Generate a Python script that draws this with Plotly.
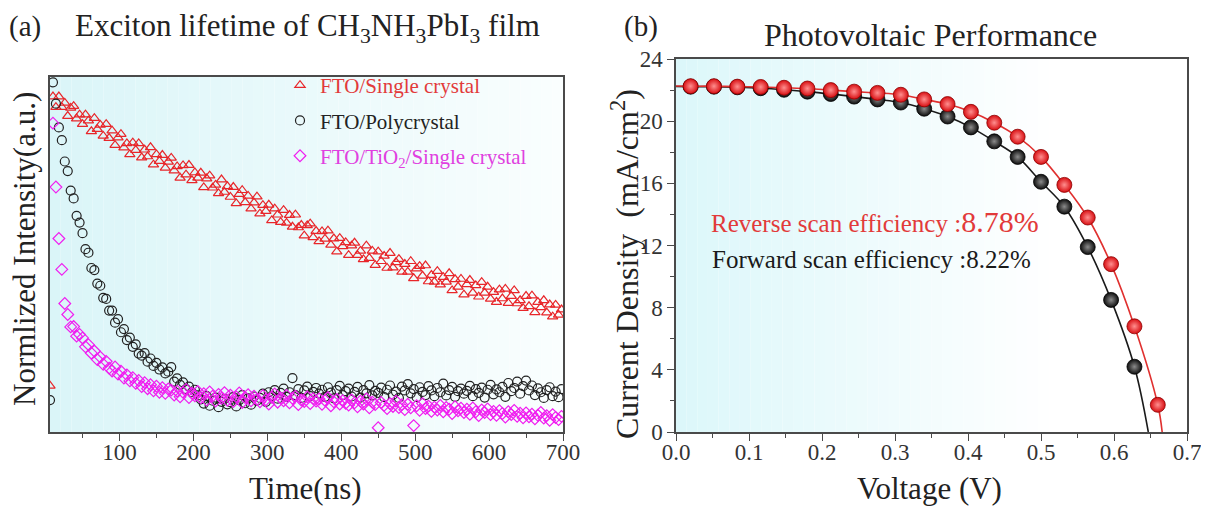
import plotly.graph_objects as go

# ---------------- panel (a): PL decay data (normalized) ----------------
time_ns = [6] + list(range(10, 701, 4))

fto_single_crystal = [0.13,
    0.945, 0.915, 0.945, 0.915, 0.927, 0.890, 0.913, 0.918, 0.883, 0.894,
    0.867, 0.894, 0.877, 0.847, 0.884, 0.853, 0.865, 0.834, 0.867, 0.828,
    0.849, 0.808, 0.829, 0.839, 0.801, 0.813, 0.782, 0.815, 0.794, 0.813,
    0.773, 0.795, 0.776, 0.802, 0.753, 0.782, 0.763, 0.780, 0.744, 0.761,
    0.772, 0.736, 0.748, 0.716, 0.751, 0.725, 0.752, 0.709, 0.731, 0.716,
    0.730, 0.689, 0.714, 0.722, 0.688, 0.696, 0.672, 0.711, 0.676, 0.692,
    0.662, 0.690, 0.644, 0.670, 0.681, 0.647, 0.665, 0.629, 0.646, 0.663,
    0.615, 0.639, 0.622, 0.640, 0.596, 0.629, 0.612, 0.591, 0.625, 0.589,
    0.611, 0.578, 0.612, 0.576, 0.583, 0.553, 0.582, 0.587, 0.548, 0.566,
    0.537, 0.565, 0.544, 0.567, 0.527, 0.545, 0.508, 0.546, 0.523, 0.534,
    0.498, 0.525, 0.533, 0.498, 0.510, 0.486, 0.525, 0.490, 0.510, 0.470,
    0.508, 0.481, 0.496, 0.462, 0.504, 0.463, 0.478, 0.487, 0.451, 0.473,
    0.451, 0.481, 0.433, 0.460, 0.467, 0.440, 0.469, 0.424, 0.442, 0.423,
    0.453, 0.415, 0.436, 0.423, 0.447, 0.399, 0.430, 0.409, 0.431, 0.387,
    0.416, 0.428, 0.392, 0.413, 0.381, 0.422, 0.392, 0.409, 0.375, 0.394,
    0.366, 0.401, 0.376, 0.403, 0.363, 0.383, 0.399, 0.362, 0.371, 0.349,
    0.383, 0.354, 0.384, 0.337, 0.366, 0.351, 0.371, 0.336, 0.359, 0.325,
    0.358, 0.330, 0.345]

fto_polycrystal = [0.09,
    0.985, 0.925, 0.858, 0.822, 0.762, 0.735, 0.680, 0.658, 0.609, 0.590,
    0.560, 0.515, 0.505, 0.462, 0.456, 0.418, 0.412, 0.378, 0.375, 0.342,
    0.342, 0.308, 0.318, 0.281, 0.290, 0.259, 0.266, 0.240, 0.247, 0.221,
    0.215, 0.222, 0.198, 0.207, 0.186, 0.195, 0.176, 0.182, 0.165, 0.170,
    0.183, 0.142, 0.151, 0.133, 0.140, 0.121, 0.128, 0.112, 0.119, 0.103,
    0.092, 0.080, 0.101, 0.074, 0.088, 0.097, 0.070, 0.085, 0.093, 0.078,
    0.084, 0.098, 0.072, 0.090, 0.104, 0.081, 0.095, 0.077, 0.100, 0.088,
    0.096, 0.108, 0.085, 0.112, 0.101, 0.118, 0.094, 0.110, 0.122, 0.099,
    0.112, 0.152, 0.104, 0.121, 0.096, 0.117, 0.128, 0.101, 0.113, 0.124,
    0.108, 0.119, 0.099, 0.126, 0.111, 0.095, 0.118, 0.130, 0.104, 0.115,
    0.122, 0.100, 0.113, 0.127, 0.097, 0.118, 0.109, 0.132, 0.103, 0.116,
    0.110, 0.125, 0.098, 0.119, 0.131, 0.105, 0.114, 0.096, 0.128, 0.117,
    0.135, 0.109, 0.121, 0.098, 0.126, 0.113, 0.104, 0.129, 0.117, 0.101,
    0.124, 0.112, 0.136, 0.103, 0.118, 0.127, 0.099, 0.115, 0.122, 0.108,
    0.116, 0.130, 0.101, 0.121, 0.110, 0.125, 0.097, 0.119, 0.133, 0.106,
    0.120, 0.112, 0.127, 0.099, 0.138, 0.115, 0.124, 0.142, 0.108, 0.129,
    0.145, 0.117, 0.131, 0.104, 0.123, 0.112, 0.096, 0.118, 0.126, 0.101,
    0.114, 0.098, 0.121]

fto_tio2_single_crystal = [None,
    0.870, 0.690, 0.545, 0.458, 0.362, 0.331, 0.296, 0.297, 0.270, 0.275,
    0.265, 0.240, 0.246, 0.222, 0.228, 0.204, 0.211, 0.191, 0.199, 0.180,
    0.172, 0.183, 0.163, 0.171, 0.152, 0.161, 0.144, 0.153, 0.137, 0.145,
    0.128, 0.139, 0.122, 0.133, 0.116, 0.129, 0.112, 0.125, 0.109, 0.121,
    0.118, 0.104, 0.115, 0.099, 0.112, 0.120, 0.097, 0.109, 0.102, 0.114,
    0.096, 0.108, 0.090, 0.113, 0.101, 0.087, 0.106, 0.095, 0.111, 0.089,
    0.104, 0.086, 0.099, 0.110, 0.083, 0.097, 0.105, 0.088, 0.101, 0.092,
    0.085, 0.102, 0.091, 0.079, 0.098, 0.107, 0.084, 0.096, 0.088, 0.103,
    0.082, 0.095, 0.101, 0.077, 0.090, 0.086, 0.099, 0.080, 0.094, 0.087,
    0.093, 0.078, 0.089, 0.097, 0.074, 0.085, 0.092, 0.079, 0.088, 0.081,
    0.076, 0.090, 0.082, 0.071, 0.087, 0.079, 0.093, 0.068, 0.084, 0.077,
    0.012, 0.083, 0.075, 0.066, 0.080, 0.072, 0.087, 0.069, 0.077, 0.063,
    0.078, 0.068, 0.018, 0.074, 0.061, 0.080, 0.066, 0.073, 0.058, 0.070,
    0.062, 0.075, 0.057, 0.069, 0.064, 0.052, 0.071, 0.060, 0.067, 0.055,
    0.064, 0.050, 0.068, 0.057, 0.046, 0.062, 0.055, 0.065, 0.049, 0.058,
    0.047, 0.060, 0.052, 0.042, 0.057, 0.049, 0.061, 0.044, 0.053, 0.040,
    0.054, 0.043, 0.050, 0.037, 0.047, 0.055, 0.039, 0.046, 0.033, 0.049,
    0.041, 0.035, 0.044]

time_ticks = [100, 200, 300, 400, 500, 600, 700]

# ---------------- panel (b): J-V data ----------------
voltage = [0.020, 0.052, 0.084, 0.116, 0.148, 0.180, 0.212, 0.244, 0.276, 0.308,
           0.340, 0.372, 0.404, 0.436, 0.468, 0.500, 0.532, 0.564, 0.596, 0.628, 0.660]
j_reverse = [22.25, 22.25, 22.22, 22.20, 22.15, 22.10, 22.00, 21.90, 21.82, 21.70,
             21.40, 21.10, 20.60, 19.90, 19.00, 17.70, 15.90, 13.80, 10.80, 6.80, 1.75]
j_forward = [22.22, 22.22, 22.18, 22.12, 22.02, 21.90, 21.75, 21.58, 21.40, 21.20,
             20.80, 20.30, 19.60, 18.70, 17.70, 16.10, 14.50, 11.90, 8.50, 4.20, None]
jsc_reverse, voc_reverse = 22.26, 0.666
jsc_forward, voc_forward = 22.23, 0.647
eff_reverse = "8.78%"
eff_forward = "8.22%"

fit_v_reverse = [0.0] + voltage + [voc_reverse]
fit_j_reverse = [jsc_reverse] + j_reverse + [0.0]
fit_v_forward = [0.0] + voltage[:20] + [voc_forward]
fit_j_forward = [jsc_forward] + j_forward[:20] + [0.0]

# ---------------- figure ----------------
# page body has an 8px margin, so the figure is 8px smaller and all
# reference pixel positions are shifted by 8px
OFF = 8
W, H = 1209 - OFF, 506 - OFF
FONT = "Liberation Serif, Times New Roman, serif"
RED = "#e8262a"
MAG = "#f01ef0"
BLK = "#222222"

fig = go.Figure()

fig.add_trace(go.Scatter(
    x=time_ns, y=fto_single_crystal, mode="markers", xaxis="x", yaxis="y",
    name='<span style="color:#e23a3a">FTO/Single crystal</span>', legendgroup="a",
    marker=dict(symbol="triangle-up-open", size=9, color=RED, line=dict(width=1.2))))
fig.add_trace(go.Scatter(
    x=time_ns, y=fto_polycrystal, mode="markers", xaxis="x", yaxis="y",
    name='<span style="color:#222">FTO/Polycrystal</span>', legendgroup="b",
    marker=dict(symbol="circle-open", size=9, color=BLK, line=dict(width=1.2))))
fig.add_trace(go.Scatter(
    x=time_ns, y=fto_tio2_single_crystal, mode="markers", xaxis="x", yaxis="y",
    name='<span style="color:#e040e0">FTO/TiO<sub>2</sub>/Single crystal</span>', legendgroup="c",
    marker=dict(symbol="diamond-open", size=9, color=MAG, line=dict(width=1.2))))

# panel (b)
fig.add_trace(go.Scatter(
    x=fit_v_forward, y=fit_j_forward, mode="lines", xaxis="x2", yaxis="y2",
    line=dict(color="#1a1a1a", width=1.6, shape="spline"), showlegend=False))
fig.add_trace(go.Scatter(
    x=voltage, y=j_forward, mode="markers", xaxis="x2", yaxis="y2", showlegend=False,
    marker=dict(size=15, color="#0d0d0d", gradient=dict(type="radial", color="#8c8c8c"),
                line=dict(color="#000", width=0.8))))
fig.add_trace(go.Scatter(
    x=fit_v_reverse, y=fit_j_reverse, mode="lines", xaxis="x2", yaxis="y2",
    line=dict(color="#e0302f", width=1.6, shape="spline"), showlegend=False))
fig.add_trace(go.Scatter(
    x=voltage, y=j_reverse, mode="markers", xaxis="x2", yaxis="y2", showlegend=False,
    marker=dict(size=15, color="#d80e12", gradient=dict(type="radial", color="#ff8f8f"),
                line=dict(color="#8c0000", width=0.8))))

def px_x(p):
    return (p - OFF) / W

def px_y(p):
    return 1 - (p - OFF) / H

axis_common = dict(showline=True, linecolor="#4a4a4a", linewidth=1.5, mirror=True,
                   showgrid=False, zeroline=False, automargin=False,
                   tickfont=dict(family=FONT, size=23, color="#333"))

fig.update_layout(
    width=W, height=H, margin=dict(l=0, r=0, t=0, b=0, autoexpand=False),
    paper_bgcolor="white", plot_bgcolor="white",
    font=dict(family=FONT, color="#222"),
    xaxis=dict(domain=[px_x(50), px_x(563)], anchor="y", range=[6, 700],
               tickvals=time_ticks, ticks="outside", ticklen=7, tickcolor="#4a4a4a",
               ticklabelstandoff=-8,
               minor=dict(ticks="outside", ticklen=4, dtick=50, tick0=0, tickcolor="#4a4a4a"),
               **axis_common),
    yaxis=dict(domain=[px_y(432), px_y(77)], anchor="x", range=[0, 1],
               showticklabels=False, ticks="", **axis_common),
    xaxis2=dict(domain=[px_x(676), px_x(1187)], anchor="y2", range=[0, 0.7],
                dtick=0.1, tick0=0, tickformat=".1f", ticks="outside", ticklen=7,
                tickcolor="#4a4a4a", ticklabelstandoff=-8,
                minor=dict(ticks="outside", ticklen=4, dtick=0.05, tick0=0, tickcolor="#4a4a4a"),
                **axis_common),
    yaxis2=dict(domain=[px_y(432), px_y(59)], anchor="x2", range=[0, 24],
                dtick=4, tick0=0, ticks="outside", ticklen=7, tickcolor="#4a4a4a",
                minor=dict(ticks="outside", ticklen=4, dtick=2, tick0=0, tickcolor="#4a4a4a"),
                **axis_common),
    legend=dict(x=px_x(280), y=px_y(65), xanchor="left", yanchor="top",
                bgcolor="rgba(0,0,0,0)", borderwidth=0,
                font=dict(family=FONT, size=21, color="#222"),
                tracegroupgap=5, traceorder="grouped", itemwidth=30),
    showlegend=True,
)

# background gradients (cyan -> white)
shapes = []
N = 48
for i in range(N):
    f = (i + 0.5) / N
    c0 = (218, 245, 248)
    c1 = (250, 254, 254)
    col = tuple(int(round(c0[k] + (c1[k] - c0[k]) * f)) for k in range(3))
    shapes.append(dict(type="rect", xref="x domain", yref="y domain", x0=i / N, x1=(i + 1) / N,
                       y0=0, y1=1, fillcolor="rgb(%d,%d,%d)" % col, line=dict(width=0), layer="below"))
for i in range(N):
    f = min(1.0, ((i + 0.5) / N) / 0.75)
    c0 = (220, 247, 250)
    c1 = (255, 255, 255)
    col = tuple(int(round(c0[k] + (c1[k] - c0[k]) * f)) for k in range(3))
    shapes.append(dict(type="rect", xref="x2 domain", yref="y2 domain", x0=i / N, x1=(i + 1) / N,
                       y0=0, y1=1, fillcolor="rgb(%d,%d,%d)" % col, line=dict(width=0), layer="below"))
fig.update_layout(shapes=shapes)

def ann(text, x, y, size, color="#222", angle=0, xanchor="center", yanchor="middle"):
    return dict(text=text, x=px_x(x), y=px_y(y), xref="paper", yref="paper",
                showarrow=False, textangle=angle, xanchor=xanchor, yanchor=yanchor,
                font=dict(family=FONT, size=size, color=color))

annotations = [
    ann("(a)", 25, 8, 29, yanchor="top"),
    ann("Exciton lifetime of CH<sub>3</sub>NH<sub>3</sub>PbI<sub>3</sub> film", 307, 28, 31),
    ann("(b)", 641, 8, 29, yanchor="top"),
    ann("Photovoltaic Performance", 930, 35, 32),
    ann("Time(ns)", 305, 488, 31),
    ann("Voltage (V)", 929, 488, 31),
    ann("Normlized Intensity(a.u.)", 24, 249, 31, angle=-90),
    ann("Current Density  (mA/cm<sup>2</sup>)", 625, 264, 32, angle=-90),
    ann('Reverse scan efficiency :<span style="font-size:30px">' + eff_reverse + '</span>',
        709, 221, 25, color="#e23a3a", xanchor="left"),
    ann("Forward scan efficiency :" + eff_forward, 710, 260, 25, color="#1a1a1a", xanchor="left"),
]
fig.update_layout(annotations=annotations)

fig.write_html("out.html")
